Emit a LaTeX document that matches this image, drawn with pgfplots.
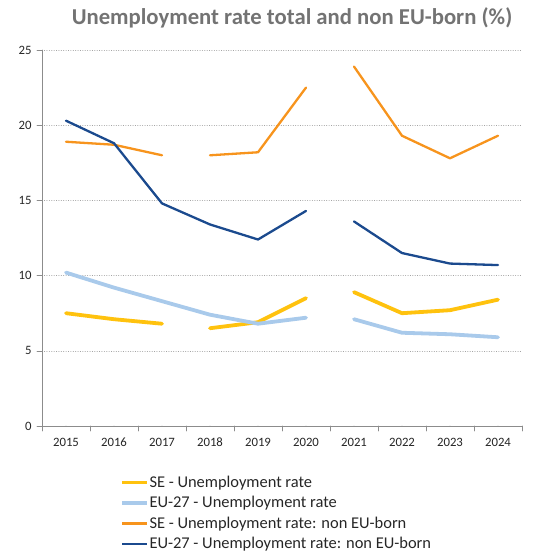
\documentclass[border=0pt]{standalone}
\usepackage{fontspec}
\setmainfont{Carlito}
\usepackage{pgfplots}
\pgfplotsset{compat=1.18}
\definecolor{seyellow}{HTML}{FFC20E}
\definecolor{eulight}{HTML}{A9CAEB}
\definecolor{seorange}{HTML}{F7941D}
\definecolor{eudark}{HTML}{1B4A8E}
\definecolor{axgray}{HTML}{8C8C8C}
\definecolor{titlegray}{HTML}{737373}
\definecolor{txt}{HTML}{262626}
\begin{document}
\begin{tikzpicture}
\path (-42bp,-132bp) rectangle (514bp,426bp);
\node[font=\bfseries\fontsize{22.8}{25}\selectfont, text=titlegray] at (250bp,408bp) {Unemployment rate total and non EU-born (\%)};
\begin{axis}[
  at={(0,0)}, anchor=south west,
  scale only axis, width=480bp, height=376bp,
  xmin=-0.5, xmax=9.5, ymin=0, ymax=25,
  axis x line*=bottom, axis y line*=left,
  axis line style={axgray, line width=0.8pt},
  xtick={-0.5,0.5,...,9.5},
  xticklabels={},
  extra x ticks={0,1,2,3,4,5,6,7,8,9},
  extra x tick labels={2015,2016,2017,2018,2019,2020,2021,2022,2023,2024},
  extra x tick style={major tick length=0pt, grid=none,
    tick label style={font=\fontsize{12.8}{14}\selectfont, text=txt, anchor=base, yshift=-20bp}},
  x tick style={axgray, line width=0.6pt},
  ytick={0,5,...,25},
  y tick style={axgray, line width=0.6pt},
  major tick length=5bp,
  tick align=outside,
  ymajorgrids,
  y grid style={axgray!80, dotted, line width=0.6pt},
  tick label style={font=\fontsize{12.8}{14}\selectfont, text=txt},
  /pgf/number format/assume math mode=true,
  yticklabel style={xshift=-2bp},
  unbounded coords=jump,
  line join=round, line cap=round,
  legend style={at={(0.1625,-0.127)}, anchor=north west, draw=none, fill=none,
    font=\fontsize{16.5}{18}\selectfont, text=txt, row sep=3.6bp,
    inner sep=0pt, legend cell align=left,
    nodes={inner xsep=0.5bp}},
  legend image code/.code={\draw[#1, line cap=butt] (0bp,0bp) -- (25bp,0bp);},
]
\addplot[seyellow, line width=3.8bp] coordinates {(0,7.5) (1,7.1) (2,6.8) (2.5,nan) (3,6.5) (4,6.9) (5,8.5) (5.5,nan) (6,8.9) (7,7.5) (8,7.7) (9,8.4)};
\addlegendentry{SE - Unemployment rate}
\addplot[eulight, line width=3.8bp] coordinates {(0,10.2) (1,9.2) (2,8.3) (3,7.4) (4,6.8) (5,7.2) (5.5,nan) (6,7.1) (7,6.2) (8,6.1) (9,5.9)};
\addlegendentry{EU-27 - Unemployment rate}
\addplot[seorange, line width=2.3bp] coordinates {(0,18.9) (1,18.7) (2,18.0) (2.5,nan) (3,18.0) (4,18.2) (5,22.5) (5.5,nan) (6,23.9) (7,19.3) (8,17.8) (9,19.3)};
\addlegendentry{SE - Unemployment rate: non EU-born}
\addplot[eudark, line width=2.3bp] coordinates {(0,20.3) (1,18.8) (2,14.8) (3,13.4) (4,12.4) (5,14.3) (5.5,nan) (6,13.6) (7,11.5) (8,10.8) (9,10.7)};
\addlegendentry{EU-27 - Unemployment rate: non EU-born}
\end{axis}
\end{tikzpicture}
\end{document}
